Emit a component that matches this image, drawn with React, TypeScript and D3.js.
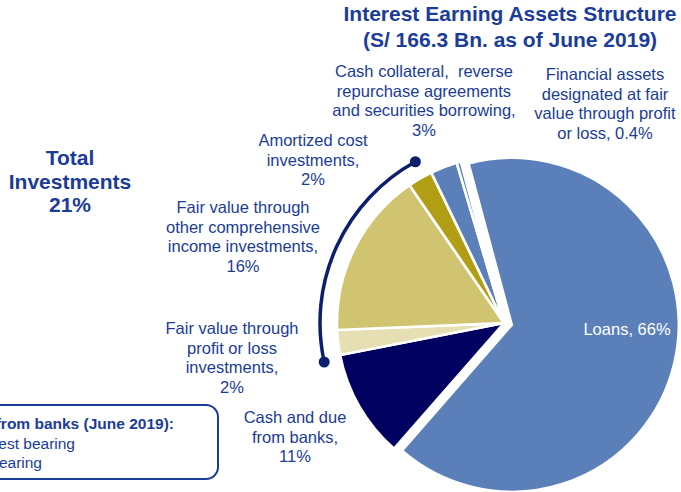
import React from "react";
import * as d3 from "d3";

// ---- data ----
const categories = [
  "Loans",
  "Cash and due from banks",
  "Fair value through profit or loss investments",
  "Fair value through other comprehensive income investments",
  "Amortized cost investments",
  "Cash collateral, reverse repurchase agreements and securities borrowing",
  "Financial assets designated at fair value through profit or loss",
];
const shares = [65.6, 10.5, 2.4, 16.1, 2.4, 2.6, 0.4];
const labelLines = [
  ["Loans, 66%"],
  ["Cash and due", "from banks,", "11%"],
  ["Fair value through", "profit or loss", "investments,", "2%"],
  ["Fair value through", "other comprehensive", "income investments,", "16%"],
  ["Amortized cost", "investments,", "2%"],
  ["Cash collateral,  reverse", "repurchase agreements", "and securities borrowing,", "3%"],
  ["Financial assets", "designated at fair", "value through profit", "or loss, 0.4%"],
];
const titleLines = ["Interest Earning Assets Structure", "(S/ 166.3 Bn. as of June 2019)"];
const totalLines = ["Total", "Investments", "21%"];
const boxLines = ["Cash and due from banks (June 2019):", "Non-interest bearing", "Interest bearing"];

// ---- styles / layout ----
const W = 681;
const H = 492;
const sliceColors = ["#5a7fb9", "#000060", "#e6dfb4", "#d1c470", "#b19e14", "#5a7fb9", "#5a7fb9"];
const textColor = "#1b3c98";
const navy = "#0b1f6e";
const FONT = "'Liberation Sans', Arial, Helvetica, sans-serif";
// label anchor: [center x, first baseline]
const labelPos: [number, number][] = [
  [627, 335],
  [295, 423],
  [232, 334],
  [243, 213],
  [313, 146],
  [424, 77],
  [605, 80],
];
const labelColor = ["#ffffff", textColor, textColor, textColor, textColor, textColor, textColor];

export default function App() {
  const cx = 504;
  const cy = 323;
  const r = 167;
  const startDeg = -15;
  const start = (startDeg * Math.PI) / 180;

  const pie = d3
    .pie<number>()
    .sort(null)
    .value((d) => d)
    .startAngle(start)
    .endAngle(start + 2 * Math.PI);
  const arcs = pie(shares);
  const arcGen = d3.arc<d3.PieArcDatum<number>>().innerRadius(0).outerRadius(r);

  // bracket around the investments slices (indices 2..4)
  const deg = Math.PI / 180;
  const bStart = arcs[2].startAngle - 1.2 * deg;
  const bEnd = arcs[4].endAngle - 3 * deg;
  const bR = 184;
  const bp = d3.path();
  bp.arc(cx, cy, bR, bStart - Math.PI / 2, bEnd - Math.PI / 2, false);
  const dot = (a: number) => [cx + bR * Math.sin(a), cy - bR * Math.cos(a)];
  const d0 = dot(bStart);
  const d1 = dot(bEnd);

  return (
    <svg
      width={W}
      height={H}
      style={{ position: "absolute", left: 0, top: 0, display: "block", background: "#fff" }}
      fontFamily={FONT}
    >
      {/* pie */}
      {arcs.map((a, i) => {
        const mid = (a.startAngle + a.endAngle) / 2;
        const off = i === 0 ? 8 : 0;
        const tx = cx + off * Math.sin(mid);
        const ty = cy - off * Math.cos(mid);
        return (
          <path
            key={categories[i]}
            d={arcGen(a) || ""}
            transform={`translate(${tx},${ty})`}
            fill={sliceColors[i]}
            stroke="#fff"
            strokeWidth={2.6}
            strokeLinejoin="miter"
          />
        );
      })}

      {/* bracket */}
      <path d={bp.toString()} fill="none" stroke={navy} strokeWidth={3.5} />
      <circle cx={d0[0]} cy={d0[1]} r={5.5} fill={navy} />
      <circle cx={d1[0]} cy={d1[1]} r={5.5} fill={navy} />

      {/* slice labels */}
      {labelLines.map((lines, i) => (
        <text
          key={"lbl" + i}
          x={labelPos[i][0]}
          y={labelPos[i][1]}
          textAnchor="middle"
          fontSize={16.5}
          fill={labelColor[i]}
          style={{ whiteSpace: "pre" }}
        >
          {lines.map((l, j) => (
            <tspan key={j} x={labelPos[i][0]} y={labelPos[i][1] + j * 19.5}>
              {l}
            </tspan>
          ))}
        </text>
      ))}

      {/* title */}
      <text textAnchor="middle" fontSize={21} fontWeight="bold" fill={textColor}>
        {titleLines.map((l, j) => (
          <tspan key={j} x={510} y={21 + j * 26}>
            {l}
          </tspan>
        ))}
      </text>

      {/* total investments */}
      <text textAnchor="middle" fontSize={21} fontWeight="bold" fill={textColor}>
        {totalLines.map((l, j) => (
          <tspan key={j} x={70} y={165 + j * 23.5}>
            {l}
          </tspan>
        ))}
      </text>

      {/* box */}
      <rect x={-30} y={405} width={248} height={74} rx={12} ry={12} fill="none" stroke={textColor} strokeWidth={2} />
      <text x={174} y={429} textAnchor="end" fontSize={15.5} fontWeight="bold" fill={textColor}>
        {boxLines[0]}
      </text>
      <text x={75} y={449} textAnchor="end" fontSize={15.5} fill={textColor}>
        {boxLines[1]}
      </text>
      <text x={42} y={468} textAnchor="end" fontSize={15.5} fill={textColor}>
        {boxLines[2]}
      </text>
    </svg>
  );
}
